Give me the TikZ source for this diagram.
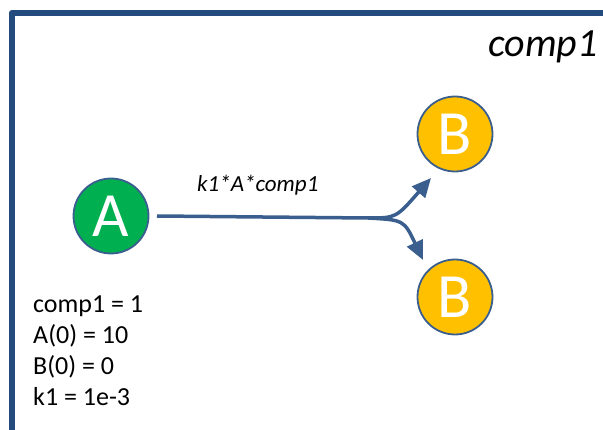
\documentclass[tikz,border=0pt]{standalone}
\usepackage{fontspec}
\setmainfont{Carlito}
\usetikzlibrary{arrows.meta}
\definecolor{compblue}{HTML}{234B7D}
\definecolor{edgeblue}{HTML}{3A5F8E}
\definecolor{speciesgreen}{HTML}{00B050}
\definecolor{speciesorange}{HTML}{FFC000}
\tikzset{
  species/.style={circle, draw=edgeblue, line width=1.8pt, minimum size=75pt,
    inner sep=0pt, text=white, font=\fontsize{63}{63}\selectfont},
  reaction/.style={draw=edgeblue, line width=3.5pt,
    -{Triangle[length=19pt,width=17pt]}},
  compartment/.style={draw=compblue, line width=6.5pt, line join=round},
  infotext/.style={anchor=north west, align=left, inner sep=0pt,
    font=\fontsize{26}{31}\selectfont}
}
\begin{document}
\begin{tikzpicture}[x=1pt,y=-1pt]
\useasboundingbox (0,0) rectangle (603,430);
\begin{scope}
  \clip (0,0) rectangle (603,430);
  \draw[compartment] (12,460) -- (12,13) -- (640,13);
\end{scope}
\node[anchor=base east, inner sep=0pt, font=\fontsize{40}{40}\selectfont\itshape] (cname) at (598,57) {comp1};

\node[species, fill=speciesgreen] (A) at (111,216) {A};
\node[species, fill=speciesorange] (B1) at (455,134) {B};
\node[species, fill=speciesorange] (B2) at (455,297) {B};

\coordinate (start) at (157,216);
\coordinate (split) at (368,218);
\coordinate (tip1) at (431,178);
\coordinate (tip2) at (423,260);

\draw[reaction] (start) -- (split) .. controls (396,218) .. (tip1);
\draw[reaction] (split) .. controls (404,220) .. (tip2);

\node[anchor=base west, inner sep=0pt, font=\fontsize{23}{23}\selectfont\itshape] (rate) at (197,192) {k1*A*comp1};

\node[infotext] (info) at (33,296) {comp1 = 1\\A(0) = 10\\B(0) = 0\\k1 = 1e-3};
\end{tikzpicture}
\end{document}
